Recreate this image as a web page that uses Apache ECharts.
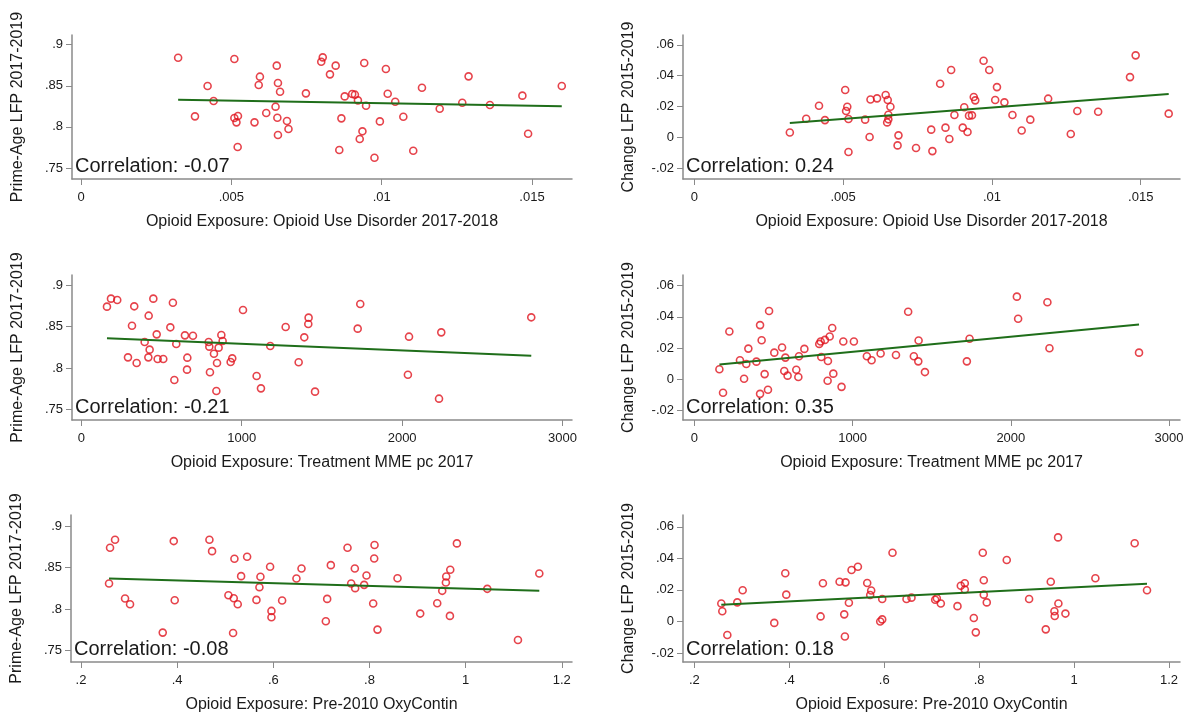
<!DOCTYPE html>
<html><head><meta charset="utf-8">
<script src="https://cdn.jsdelivr.net/npm/echarts@6/dist/echarts.min.js"></script>
<style>html,body{margin:0;padding:0;background:#fff}#c{width:1189px;height:715px}</style>
</head><body><div id="c"></div>
<script>
// Panel 1: OUD exposure vs Prime-age LFP
const p1X=[.00323,.0051,.00421,.00441,.00379,.00595,.00591,.00651,.00655,.00662,.00647,.00616,.0051,.00522,.00517,.00577,.00653,.00685,.0069,.00655,.00521,.00748,.00799,.00804,.00847,.00828,.00877,.00902,.00911,.00921,.00948,.00866,.00936,.00927,.00859,.00976,.00942,.00994,.01014,.0102,.01045,.01072,.01105,.01134,.01193,.01268,.01289,.0136,.01468,.01487,.01599];
const p1Y=[.8842,.8826,.8497,.8315,.8128,.8611,.8509,.8745,.8534,.8428,.8246,.8169,.8108,.8132,.8055,.8055,.8112,.8071,.7974,.7901,.7755,.8408,.8793,.8846,.8745,.8639,.8371,.84,.8392,.8323,.8258,.8104,.7946,.7852,.7719,.7625,.8777,.8067,.8704,.8404,.8306,.8124,.771,.8477,.8221,.8294,.8615,.8266,.838,.7917,.8497];
const p1Fit=[[.00323,.8331],[.01599,.825]];
// Panel 2: OUD exposure vs Change LFP
const p2X=[.00321,.00376,.00419,.00439,.00507,.0051,.00514,.00518,.00518,.00574,.00589,.00592,.00614,.00643,.0065,.00659,.00652,.00652,.00648,.00686,.00683,.00745,.00796,.008,.00826,.00863,.00844,.00857,.00874,.00902,.00907,.00918,.00923,.00933,.00939,.00944,.00972,.00991,.01017,.01011,.01042,.01069,.011,.01129,.01189,.01265,.01287,.01357,.01464,.01483,.01594];
const p2Y=[.0032,.0121,.0205,.0112,.0307,.0171,.0199,.0119,-.0095,.0115,.0002,.0246,.0253,.0275,.0242,.0199,.0147,.0117,.0097,.0013,-.0052,-.0069,.005,-.0089,.0348,.0437,.0063,-.0011,.0145,.0063,.0195,.0035,.0141,.0143,.0262,.024,.0497,.0437,.0326,.0242,.0227,.0145,.0045,.0115,.0251,.0022,.0171,.0166,.0391,.0532,.0154];
const p2Fit=[[.00321,.0093],[.01594,.0281]];
// Panel 3: Treatment MME vs Prime-age LFP
const p3X=[160,185,224,330,449,571,420,316,470,555,395,426,291,345,418,476,511,592,646,696,580,661,659,794,798,881,873,856,827,846,802,842,941,931,1008,1178,1274,1093,1120,1355,1390,1415,1417,1457,1723,1739,2043,2036,2244,2230,2805];
const p3Y=[.8742,.8839,.8823,.8746,.8839,.879,.8633,.8512,.8407,.8492,.8315,.8222,.8129,.806,.8129,.8109,.8109,.829,.8395,.8391,.7855,.8125,.798,.8315,.8258,.8327,.8399,.8246,.8173,.806,.7948,.7722,.8117,.8073,.8702,.8266,.8496,.7903,.7754,.8069,.8371,.8532,.8609,.7714,.8476,.8774,.8379,.7919,.8431,.7629,.8613];
const p3Fit=[[160,.8359],[2805,.8149]];
// Panel 4: Treatment MME vs Change LFP
const p4X=[158,181,221,288,328,314,341,392,415,425,415,444,465,472,505,554,575,568,589,644,657,661,695,789,798,825,802,855,871,844,842,878,930,941,1008,1090,1120,1177,1274,1351,1387,1415,1417,1457,1722,1739,2038,2046,2231,2244,2810];
const p4Y=[.0063,-.0088,.0306,.0121,.0097,.0002,.0196,.0112,.0347,.025,-.0095,.0032,-.0069,.0438,.017,.0203,.0138,.0052,.0022,.006,.0013,.0147,.0194,.0226,.0242,.0252,.0142,.0274,.0328,.0116,-.0011,.0035,-.005,.0242,.0242,.0147,.0121,.0164,.0155,.0433,.0147,.0114,.0248,.0045,.0114,.0259,.053,.0388,.0494,.0198,.017];
const p4Fit=[[158,.0093],[2810,.0351]];
// Panel 5: Pre-2010 OxyContin vs Prime-age LFP
const p5X=[.2604,.2708,.2583,.2916,.302,.37,.3929,.3949,.4671,.4726,.5066,.5177,.526,.5191,.533,.5455,.5163,.5649,.5711,.5732,.5933,.5961,.5961,.6183,.6481,.6586,.712,.7092,.7196,.7543,.7619,.7695,.7702,.7889,.7938,.8077,.8098,.8105,.8167,.8583,.9055,.9409,.9513,.9589,.9596,.968,.9673,.9818,1.045,1.1088,1.1532];
const p5Y=[.8739,.8835,.8308,.8127,.8059,.7717,.8819,.8107,.8835,.8698,.8167,.8131,.8059,.8606,.8397,.863,.7713,.8111,.8264,.8389,.8509,.7978,.7902,.8103,.8368,.8489,.8123,.7854,.8529,.8739,.8308,.8489,.8252,.8292,.8405,.8067,.861,.8771,.7753,.8372,.7946,.8071,.822,.832,.8393,.8473,.7918,.8791,.8244,.7628,.8429];
const p5Fit=[[.2583,.8368],[1.1532,.822]];
// Panel 6: Pre-2010 OxyContin vs Change LFP
const p6X=[.2568,.2589,.2695,.2905,.3018,.3684,.3916,.3937,.466,.4709,.506,.5158,.5172,.5186,.5256,.5312,.5446,.5642,.5705,.5726,.5958,.5916,.5958,.6175,.647,.6575,.7074,.7109,.7193,.7544,.7614,.7698,.7698,.7888,.793,.8077,.8098,.8098,.8161,.8582,.9053,.9404,.9509,.9586,.9593,.967,.9663,.9818,1.0449,1.1277,1.1537];
const p6Y=[.0114,.0065,-.0086,.0121,.0198,-.0009,.0306,.017,.0032,.0242,.0252,.0045,-.0095,.0248,.0119,.0326,.0347,.0244,.0168,.0196,.0142,0,.0013,.0436,.0142,.0151,.0138,.0147,.0114,.0097,.0226,.0242,.0203,.0022,-.0069,.0436,.0261,.017,.0121,.039,.0142,-.005,.0252,.0065,.0035,.0114,.0533,.005,.0274,.0496,.0198];
const p6Fit=[[.2568,.0106],[1.1537,.0239]];

const corrs=['Correlation: -0.07','Correlation: 0.24','Correlation: -0.21','Correlation: 0.35','Correlation: -0.08','Correlation: 0.18'];
const xTitles=['Opioid Exposure: Opioid Use Disorder 2017-2018','Opioid Exposure: Opioid Use Disorder 2017-2018','Opioid Exposure: Treatment MME pc 2017','Opioid Exposure: Treatment MME pc 2017','Opioid Exposure: Pre-2010 OxyContin','Opioid Exposure: Pre-2010 OxyContin'];
const yTitles=['Prime-Age LFP 2017-2019','Change LFP 2015-2019'];
const xTicksOUD=[0,.005,.01,.015], xTicksMME=[0,1000,2000,3000], xTicksOxy=[.2,.4,.6,.8,1,1.2];
const yTicksLevel=[.75,.8,.85,.9], yTicksChange=[-.02,0,.02,.04,.06];

const panels=[
 {x:p1X,y:p1Y,fit:p1Fit,xt:xTicksOUD,yt:yTicksLevel,xr:[-.0003,.01633],yr:[.7366,.9118],g:[72,35,500,144]},
 {x:p2X,y:p2Y,fit:p2Fit,xt:xTicksOUD,yt:yTicksChange,xr:[-.00038,.01632],yr:[-.027,.0664],g:[683,35,497,144]},
 {x:p3X,y:p3Y,fit:p3Fit,xt:xTicksMME,yt:yTicksLevel,xr:[-58,3059],yr:[.7371,.9125],g:[72,275,500,145]},
 {x:p4X,y:p4Y,fit:p4Fit,xt:xTicksMME,yt:yTicksChange,xr:[-72,3069],yr:[-.0263,.0669],g:[683,275,497,145]},
 {x:p5X,y:p5Y,fit:p5Fit,xt:xTicksOxy,yt:yTicksLevel,xr:[.1792,1.2212],yr:[.7363,.9133],g:[71,515,501,147]},
 {x:p6X,y:p6Y,fit:p6Fit,xt:xTicksOxy,yt:yTicksChange,xr:[.1761,1.2232],yr:[-.0257,.0675],g:[683,515,497,147]}
];
const fmt=v=>{let s=String(+v.toFixed(6));return s.replace(/^(-?)0\./,'$1.');};
const axisCol='#8a8a8a', txt='#1a1a1a', font='Liberation Sans, Arial, sans-serif';
const grid=[],xAxis=[],yAxis=[],series=[],graphic=[];
panels.forEach((p,i)=>{
  grid.push({left:p.g[0],top:p.g[1],width:p.g[2],height:p.g[3],containLabel:false});
  xAxis.push({gridIndex:i,type:'value',min:p.xr[0],max:p.xr[1],name:xTitles[i],nameLocation:'middle',nameGap:35,
    nameTextStyle:{fontSize:16,color:txt,fontFamily:font},
    axisLine:{onZero:false,lineStyle:{color:axisCol,width:1.5}},axisTick:{customValues:p.xt,length:6,lineStyle:{color:axisCol}},
    axisLabel:{customValues:p.xt,formatter:fmt,fontSize:13,color:txt,fontFamily:font,margin:12},splitLine:{show:false}});
  yAxis.push({gridIndex:i,type:'value',min:p.yr[0],max:p.yr[1],name:yTitles[i%2],nameLocation:'middle',nameGap:46,
    nameTextStyle:{fontSize:16,color:txt,fontFamily:font},
    axisLine:{show:true,onZero:false,lineStyle:{color:axisCol,width:1.5}},axisTick:{show:true,customValues:p.yt,length:6,lineStyle:{color:axisCol}},
    axisLabel:{customValues:p.yt,formatter:fmt,fontSize:13,color:txt,fontFamily:font,margin:9},splitLine:{show:false}});
  series.push({type:'scatter',xAxisIndex:i,yAxisIndex:i,data:p.x.map((v,k)=>[v,p.y[k]]),symbol:'circle',symbolSize:7,
    itemStyle:{color:'rgba(0,0,0,0)',borderColor:'#e0141e',borderWidth:1.6},silent:true});
  series.push({type:'line',xAxisIndex:i,yAxisIndex:i,data:p.fit,symbol:'none',lineStyle:{color:'#1f6e1a',width:2},silent:true});
  graphic.push({type:'text',left:p.g[0]+3,top:p.g[1]+p.g[3]-23,style:{text:corrs[i],fontSize:20,fill:txt,fontFamily:font}});
});
const chart=echarts.init(document.getElementById('c'));
chart.setOption({animation:false,backgroundColor:'#fff',grid,xAxis,yAxis,series,graphic});
</script></body></html>
